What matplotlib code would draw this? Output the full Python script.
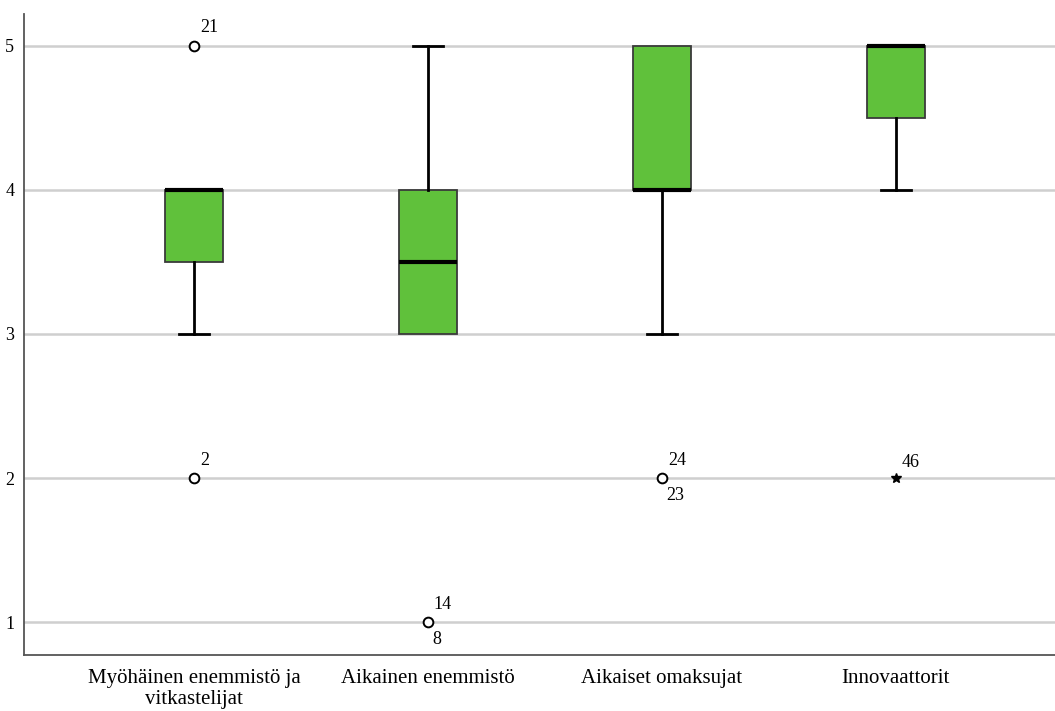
import matplotlib
matplotlib.use("Agg")
import matplotlib.pyplot as plt

plt.rcParams["font.family"] = ["Liberation Serif", "DejaVu Serif"]

# Adopter groups and their box-plot summaries (1-5 scale)
categories = ["Myöhäinen enemmistö ja\nvitkastelijat", "Aikainen enemmistö",
              "Aikaiset omaksujat", "Innovaattorit"]
q1 = [3.5, 3.0, 4.0, 4.5]
medians = [4.0, 3.5, 4.0, 5.0]
q3 = [4.0, 4.0, 5.0, 5.0]
whisker_low = [3.0, 3.0, 3.0, 4.0]
whisker_high = [4.0, 5.0, 5.0, 5.0]

# Outliers (circles) and extremes (stars): group index, value, case labels above / below
outlier_group = [0, 0, 1, 2]
outlier_value = [5.0, 2.0, 1.0, 2.0]
outlier_above = ["21", "2", "14", "24"]
outlier_below = ["", "", "8", "23"]

extreme_group = [3]
extreme_value = [2.0]
extreme_above = ["46"]

yticks = [1, 2, 3, 4, 5]

fig = plt.figure(figsize=(10.55, 7.11), dpi=100)
ax = fig.add_axes([24 / 1055, 1 - 655 / 711, 1 - 24 / 1055, (655 - 14) / 711])

stats = []
for i in range(len(categories)):
    stats.append(dict(med=medians[i], q1=q1[i], q3=q3[i],
                      whislo=whisker_low[i], whishi=whisker_high[i], fliers=[]))

positions = list(range(len(categories)))
parts = ax.bxp(stats, positions=positions, widths=0.245, patch_artist=True,
               showfliers=False, capwidths=0.125,
               boxprops=dict(facecolor="#60c13b", edgecolor="#3a3a3a", linewidth=1.3),
               medianprops=dict(color="black", linewidth=3.0),
               whiskerprops=dict(color="black", linewidth=2.0),
               capprops=dict(color="black", linewidth=2.0),
               zorder=3)

# A whisker that ends on the box edge has no visible cap
for i in range(len(categories)):
    if whisker_low[i] == q1[i]:
        parts["caps"][2 * i].set_visible(False)
    if whisker_high[i] == q3[i]:
        parts["caps"][2 * i + 1].set_visible(False)

ax.plot([positions[g] for g in outlier_group], outlier_value, linestyle="none",
        marker="o", markersize=7, markerfacecolor="white",
        markeredgecolor="black", markeredgewidth=1.4, zorder=4)
ax.plot([positions[g] for g in extreme_group], extreme_value, linestyle="none",
        marker="*", markersize=7, color="black", zorder=4)

for g, v, up, down in zip(outlier_group, outlier_value, outlier_above, outlier_below):
    if up:
        ax.annotate(up, (positions[g], v), xytext=(6, 18), textcoords="offset pixels",
                    ha="left", va="center", fontsize=13)
    if down:
        ax.annotate(down, (positions[g], v), xytext=(4, -17), textcoords="offset pixels",
                    ha="left", va="center", fontsize=13)
for g, v, up in zip(extreme_group, extreme_value, extreme_above):
    ax.annotate(up, (positions[g], v), xytext=(6, 16), textcoords="offset pixels",
                ha="left", va="center", fontsize=13)

ax.set_xlim(-0.726, 3.68)
ax.set_ylim(0.771, 5.222)
ax.set_yticks(yticks)
ax.set_yticklabels([str(t) for t in yticks])
ax.set_xticks(positions)
ax.set_xticklabels(categories, fontsize=15, linespacing=1.15)
ax.tick_params(axis="y", length=0, pad=7, labelsize=13)
ax.tick_params(axis="x", length=0, pad=10)

ax.yaxis.grid(True, color="#cfcfcf", linewidth=1.8, zorder=0)
ax.set_axisbelow(True)
for side in ("top", "right"):
    ax.spines[side].set_visible(False)
for side in ("left", "bottom"):
    ax.spines[side].set_color("#555555")
    ax.spines[side].set_linewidth(1.3)

fig.savefig("out.png", dpi=100)
